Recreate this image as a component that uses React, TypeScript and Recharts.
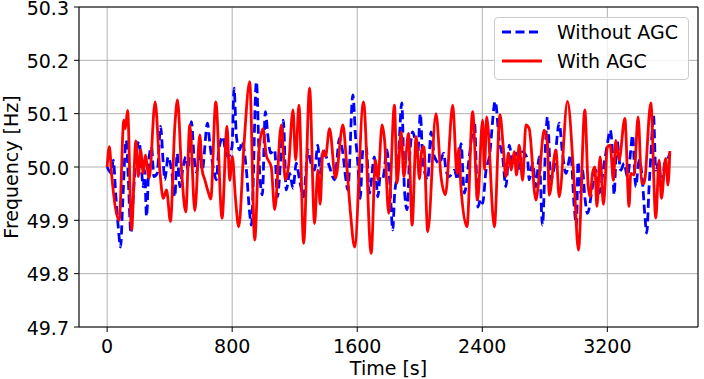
import { LineChart, Line, XAxis, YAxis, CartesianGrid } from 'recharts'

// Time [s] / frequency [Hz], without AGC (blue dashed)
const timeWithout = [
  0, 28, 39, 56, 71, 86, 99, 122, 135, 152, 167, 184, 205, 220, 231, 240, 252, 269, 284, 299,
  320, 342, 359, 369, 390, 412, 433, 448, 465, 486, 503, 518, 539, 556, 571, 593, 608, 642, 657, 678,
  699, 714, 742, 752, 774, 799, 812, 827, 848, 863, 891, 912, 923, 955, 976, 993, 1012, 1029, 1046, 1072,
  1089, 1110, 1127, 1146, 1168, 1189, 1210, 1231, 1257, 1285, 1299, 1327, 1348, 1363, 1380, 1402, 1423, 1455, 1487, 1508,
  1525, 1540, 1572, 1589, 1604, 1619, 1636, 1657, 1678, 1710, 1732, 1747, 1764, 1790, 1806, 1828, 1838, 1860, 1885, 1902,
  1919, 1934, 1955, 1987, 2004, 2019, 2051, 2072, 2094, 2126, 2153, 2168, 2189, 2221, 2243, 2264, 2285, 2317, 2349, 2372,
  2390, 2402, 2424, 2445, 2483, 2509, 2530, 2551, 2573, 2594, 2615, 2636, 2658, 2690, 2700, 2722, 2743, 2764, 2785, 2807,
  2817, 2839, 2860, 2892, 2913, 2935, 2966, 2988, 3003, 3012, 3031, 3041, 3056, 3073, 3105, 3126, 3148, 3180, 3201, 3218,
  3233, 3243, 3261, 3286, 3307, 3329, 3350, 3361, 3382, 3403, 3424, 3439, 3452, 3467, 3478, 3495, 3510, 3531, 3546, 3567,
  3584, 3600,
]
const freqWithout = [
  50.0, 49.988, 50.013, 49.944, 49.888, 49.85, 49.93, 50.05, 49.982, 49.876, 49.944, 50.019, 50.048, 49.994, 49.963, 49.994, 49.907, 50.019, 50.038, 49.982,
  49.988, 50.076, 50.007, 49.976, 50.019, 49.994, 49.944, 50.025, 49.963, 50.0, 50.019, 49.994, 50.085, 50.019, 49.99, 50.026, 49.994, 50.082, 50.044, 50.0,
  49.976, 50.032, 50.057, 50.038, 50.019, 50.038, 50.148, 50.057, 50.032, 50.048, 49.994, 49.913, 49.891, 50.16, 49.988, 49.948, 50.104, 50.057, 50.026, 50.032,
  49.944, 50.013, 50.088, 49.957, 49.988, 49.96, 50.007, 49.976, 49.944, 50.032, 50.013, 49.994, 50.041, 49.988, 50.032, 50.019, 50.0, 49.976, 50.054, 50.026,
  49.982, 49.957, 50.135, 50.057, 50.007, 49.941, 50.032, 50.038, 49.951, 50.019, 49.944, 49.982, 49.979, 50.032, 49.982, 49.882, 49.944, 49.994, 50.12, 49.957,
  49.92, 50.013, 50.066, 50.026, 50.1, 50.013, 49.976, 50.066, 50.019, 50.007, 50.026, 49.994, 49.982, 49.994, 49.976, 50.044, 49.951, 50.019, 50.088, 49.925,
  49.94, 49.932, 49.994, 50.019, 50.123, 50.048, 50.019, 49.963, 50.041, 50.007, 50.026, 49.994, 50.029, 50.013, 49.976, 50.007, 49.963, 50.019, 49.891, 50.057,
  50.094, 49.976, 50.0, 50.082, 50.026, 49.988, 50.023, 49.926, 49.89, 50.01, 49.95, 49.994, 49.944, 49.913, 49.963, 49.994, 49.951, 50.007, 50.044, 50.069,
  50.026, 49.948, 50.051, 49.994, 50.007, 49.982, 50.032, 50.06, 49.963, 50.013, 49.976, 49.913, 49.876, 49.963, 50.019, 50.098, 49.994, 50.007, 49.957, 50.007,
  50.013, 50.026,
]

// With AGC (red solid)
const timeWith = [
  0, 14, 29, 77, 107, 116, 131, 156, 184, 199, 214, 231, 244, 269, 307, 337, 359, 380, 405, 433,
  450, 476, 503, 529, 561, 593, 608, 625, 650, 663, 695, 735, 767, 784, 801, 820, 842, 876, 912, 944,
  970, 997, 1018, 1050, 1072, 1114, 1140, 1160, 1189, 1206, 1227, 1257, 1295, 1327, 1348, 1363, 1380, 1397, 1423, 1461,
  1508, 1532, 1557, 1583, 1640, 1689, 1717, 1732, 1759, 1775, 1801, 1838, 1855, 1881, 1898, 1928, 1951, 1977, 1998, 2012,
  2026, 2051, 2104, 2136, 2164, 2211, 2238, 2250, 2264, 2302, 2338, 2370, 2402, 2414, 2428, 2477, 2513, 2534, 2551, 2568,
  2585, 2604, 2619, 2636, 2658, 2679, 2700, 2743, 2764, 2796, 2817, 2828, 2871, 2892, 2945, 2988, 3015, 3056, 3077, 3090,
  3105, 3120, 3133, 3154, 3175, 3201, 3218, 3239, 3254, 3275, 3312, 3339, 3350, 3371, 3397, 3420, 3435, 3478, 3510, 3531,
  3546, 3573, 3588, 3600,
]
const freqWith = [
  50.0, 50.038, 49.985, 49.9, 50.088, 50.072, 50.106, 49.882, 50.049, 49.982, 50.032, 49.988, 50.022, 49.979, 50.122, 49.994, 49.941, 49.957, 49.898, 50.076,
  50.126, 49.994, 49.916, 50.079, 49.918, 50.06, 49.994, 49.976, 49.95, 49.94, 50.122, 49.904, 50.076, 49.975, 50.02, 49.945, 49.888, 50.044, 50.16, 49.863,
  50.026, 50.072, 50.022, 50.0, 49.92, 50.079, 49.976, 50.0, 50.107, 50.013, 50.116, 49.857, 50.148, 49.894, 49.994, 49.93, 50.03, 50.02, 50.072, 49.979,
  50.079, 50.007, 49.913, 49.85, 50.122, 49.838, 50.013, 49.976, 50.079, 50.05, 49.913, 50.116, 49.97, 50.066, 49.982, 50.063, 49.891, 50.057, 49.978, 50.03,
  50.038, 49.879, 50.1, 49.982, 49.948, 50.116, 49.988, 50.035, 49.96, 49.888, 50.104, 49.938, 50.088, 49.995, 50.094, 49.888, 50.098, 50.038, 49.982, 50.026,
  49.994, 50.029, 49.985, 50.041, 49.975, 50.079, 50.072, 49.938, 49.982, 50.069, 50.044, 49.947, 50.032, 49.944, 50.123, 49.97, 49.844, 50.107, 49.966, 49.944,
  49.988, 50.0, 49.926, 50.019, 49.93, 50.038, 50.041, 49.975, 50.05, 50.013, 50.091, 49.926, 49.988, 49.985, 50.094, 49.97, 49.969, 50.12, 49.904, 50.013,
  49.941, 50.016, 49.966, 50.03,
]

const xTicks = [0, 800, 1600, 2400, 3200]
const yTicks = [49.7, 49.8, 49.9, 50.0, 50.1, 50.2, 50.3]

const withoutData = timeWithout.map((t, i) => ({ t, f: freqWithout[i] }))
const withData = timeWith.map((t, i) => ({ t, f: freqWith[i] }))

const FONT = 'DejaVu Sans'
const FS = 19
const BLUE = '#0000ff'
const RED = '#ff0000'
const tickStyle = { fill: '#000', fontSize: FS, fontFamily: FONT }

// y tick labels, baseline a bit under the tick so the top one is not clipped
const YTick = ({ x, y, payload }: any) => (
  <text x={x} y={y + 7.5} textAnchor="end" fill="#000" fontSize={FS} fontFamily={FONT}>
    {Number(payload.value).toFixed(1)}
  </text>
)

export default function App() {
  return (
    <div style={{ position: 'absolute', left: 0, top: 0, width: 704, height: 379, background: '#fff' }}>
      <LineChart width={704} height={379} margin={{ top: 0, right: 0, bottom: 0, left: 0 }}>
        <CartesianGrid stroke="#b0b0b0" strokeWidth={1} />
        <XAxis
          type="number" dataKey="t" domain={[-180, 3780]} ticks={xTicks} interval={0} allowDataOverflow
          height={52} tickSize={5} tickMargin={8} stroke="#000" tick={tickStyle}
          label={{ value: 'Time [s]', position: 'insideBottom', offset: 4, fill: '#000', fontSize: FS, fontFamily: FONT }}
        />
        <XAxis
          xAxisId="top" orientation="top" type="number" domain={[-180, 3780]} ticks={xTicks} interval={0}
          height={7} tickSize={5} stroke="#000" tick={false}
        />
        <YAxis
          type="number" domain={[49.7, 50.3]} ticks={yTicks} interval={0} allowDataOverflow
          width={79} tickSize={5} tickMargin={5} stroke="#000" tick={YTick}
          label={{ value: 'Frequency [Hz]', angle: -90, position: 'insideLeft', offset: 11, style: { textAnchor: 'middle' }, fill: '#000', fontSize: FS, fontFamily: FONT }}
        />
        <YAxis
          yAxisId="r" orientation="right" type="number" domain={[49.7, 50.3]} ticks={yTicks} interval={0}
          width={6} tickSize={5} stroke="#000" tick={false}
        />
        <Line data={withoutData} dataKey="f" type="monotone" stroke={BLUE} strokeWidth={2.8} strokeDasharray="9 4.5" dot={false} activeDot={false} isAnimationActive={false} />
        <Line data={withData} dataKey="f" type="monotone" stroke={RED} strokeWidth={2.8} dot={false} activeDot={false} isAnimationActive={false} />
      </LineChart>
      <div style={{ position: 'absolute', left: 494, top: 17, width: 195, height: 63, boxSizing: 'border-box', background: 'rgba(255,255,255,0.8)', border: '1px solid #cccccc', borderRadius: 4 }}>
        <svg width={195} height={63} style={{ position: 'absolute', left: -1, top: -1 }}>
          <line x1={8} x2={48} y1={15} y2={15} stroke={BLUE} strokeWidth={2.8} strokeDasharray="9 4.5" />
          <text x={63} y={22} fontSize={FS} fontFamily={FONT} fill="#000">Without AGC</text>
          <line x1={8} x2={48} y1={44} y2={44} stroke={RED} strokeWidth={2.8} />
          <text x={63} y={51} fontSize={FS} fontFamily={FONT} fill="#000">With AGC</text>
        </svg>
      </div>
    </div>
  )
}
